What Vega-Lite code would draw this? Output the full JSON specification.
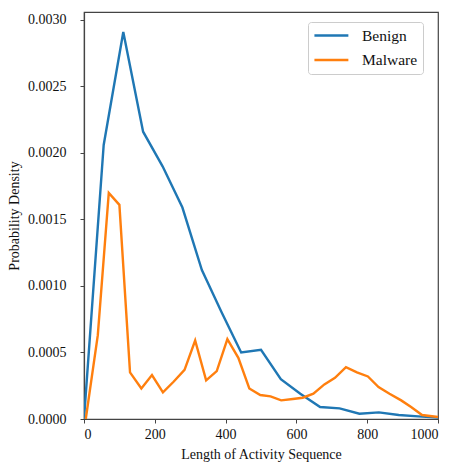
{
  "$schema": "https://vega.github.io/schema/vega-lite/v6.json",
  "autosize": {"type": "none"},
  "width": 354,
  "height": 407,
  "padding": {"left": 84, "top": 12, "right": 12, "bottom": 43},
  "background": "white",
  "config": {
    "font": "Liberation Serif",
    "view": {"stroke": "#444", "strokeWidth": 1.2},
    "axis": {
      "grid": false,
      "domainColor": "#444",
      "domainWidth": 1.2,
      "tickColor": "#444",
      "tickSize": 4,
      "tickWidth": 1,
      "labelFont": "Liberation Serif",
      "labelFontSize": 14,
      "labelColor": "#111",
      "titleFont": "Liberation Serif",
      "titleFontSize": 14,
      "titleFontWeight": "normal",
      "titleColor": "#111"
    }
  },
  "data": {
    "values": [
      {"series": "Benign", "x": 0, "y": 0},
      {"series": "Benign", "x": 55.6, "y": 0.00206},
      {"series": "Benign", "x": 111, "y": 0.00291},
      {"series": "Benign", "x": 167, "y": 0.00216},
      {"series": "Benign", "x": 222, "y": 0.0019},
      {"series": "Benign", "x": 278, "y": 0.00159},
      {"series": "Benign", "x": 333, "y": 0.00112},
      {"series": "Benign", "x": 389, "y": 0.0008},
      {"series": "Benign", "x": 444, "y": 0.0005},
      {"series": "Benign", "x": 500, "y": 0.00052},
      {"series": "Benign", "x": 556, "y": 0.0003},
      {"series": "Benign", "x": 611, "y": 0.00019},
      {"series": "Benign", "x": 667, "y": 0.00009},
      {"series": "Benign", "x": 722, "y": 0.00008},
      {"series": "Benign", "x": 778, "y": 0.00004},
      {"series": "Benign", "x": 833, "y": 0.00005},
      {"series": "Benign", "x": 889, "y": 0.00003},
      {"series": "Benign", "x": 944, "y": 0.00002},
      {"series": "Benign", "x": 1000, "y": 0.00001},
      {"series": "Malware", "x": 5, "y": 0},
      {"series": "Malware", "x": 39, "y": 0.00063},
      {"series": "Malware", "x": 70, "y": 0.0017},
      {"series": "Malware", "x": 100, "y": 0.00161},
      {"series": "Malware", "x": 130, "y": 0.00035},
      {"series": "Malware", "x": 162, "y": 0.00023},
      {"series": "Malware", "x": 192, "y": 0.00033},
      {"series": "Malware", "x": 223, "y": 0.0002},
      {"series": "Malware", "x": 253, "y": 0.00028},
      {"series": "Malware", "x": 284, "y": 0.00037},
      {"series": "Malware", "x": 314, "y": 0.00059},
      {"series": "Malware", "x": 345, "y": 0.00029},
      {"series": "Malware", "x": 375, "y": 0.00036},
      {"series": "Malware", "x": 405, "y": 0.0006},
      {"series": "Malware", "x": 436, "y": 0.00046},
      {"series": "Malware", "x": 467, "y": 0.00023},
      {"series": "Malware", "x": 498, "y": 0.00018},
      {"series": "Malware", "x": 527, "y": 0.00017},
      {"series": "Malware", "x": 557, "y": 0.00014},
      {"series": "Malware", "x": 590, "y": 0.00015},
      {"series": "Malware", "x": 618, "y": 0.00016},
      {"series": "Malware", "x": 648, "y": 0.00019},
      {"series": "Malware", "x": 679, "y": 0.00026},
      {"series": "Malware", "x": 709, "y": 0.00031},
      {"series": "Malware", "x": 740, "y": 0.00039},
      {"series": "Malware", "x": 771, "y": 0.00035},
      {"series": "Malware", "x": 802, "y": 0.00032},
      {"series": "Malware", "x": 832, "y": 0.00024},
      {"series": "Malware", "x": 863, "y": 0.00019},
      {"series": "Malware", "x": 896, "y": 0.00014},
      {"series": "Malware", "x": 924, "y": 0.00009},
      {"series": "Malware", "x": 955, "y": 0.00003},
      {"series": "Malware", "x": 1000, "y": 0.000015}
    ]
  },
  "mark": {"type": "line", "strokeWidth": 2.4, "clip": true},
  "encoding": {
    "x": {
      "field": "x", "type": "quantitative",
      "scale": {"domain": [0, 1000], "nice": false, "zero": false},
      "axis": {"values": [0, 200, 400, 600, 800, 1000], "format": "d", "labelFont": "Liberation Serif", "labelPadding": 4, "title": "Length of Activity Sequence", "titlePadding": 6}
    },
    "y": {
      "field": "y", "type": "quantitative",
      "scale": {"domain": [0, 0.00306], "nice": false},
      "axis": {"values": [0, 0.0005, 0.001, 0.0015, 0.002, 0.0025, 0.003], "format": ".4f", "labelFont": "Liberation Serif", "labelPadding": 14, "title": "Probability Density", "titlePadding": 6}
    },
    "color": {
      "field": "series", "type": "nominal",
      "scale": {"domain": ["Benign", "Malware"], "range": ["#1f77b4", "#ff7f0e"]},
      "legend": {
        "title": null,
        "orient": "none",
        "legendX": 224,
        "legendY": 10,
        "symbolType": "M-1,0H3.8",
        "symbolSize": 200,
        "symbolStrokeWidth": 2.4,
        "labelFont": "Liberation Serif",
        "labelFontSize": 15.5,
        "labelColor": "#111",
        "labelOffset": 32,
        "rowPadding": 7.5,
        "padding": 5,
        "strokeColor": "#ccc",
        "cornerRadius": 3,
        "fillColor": "white"
      }
    }
  }
}
